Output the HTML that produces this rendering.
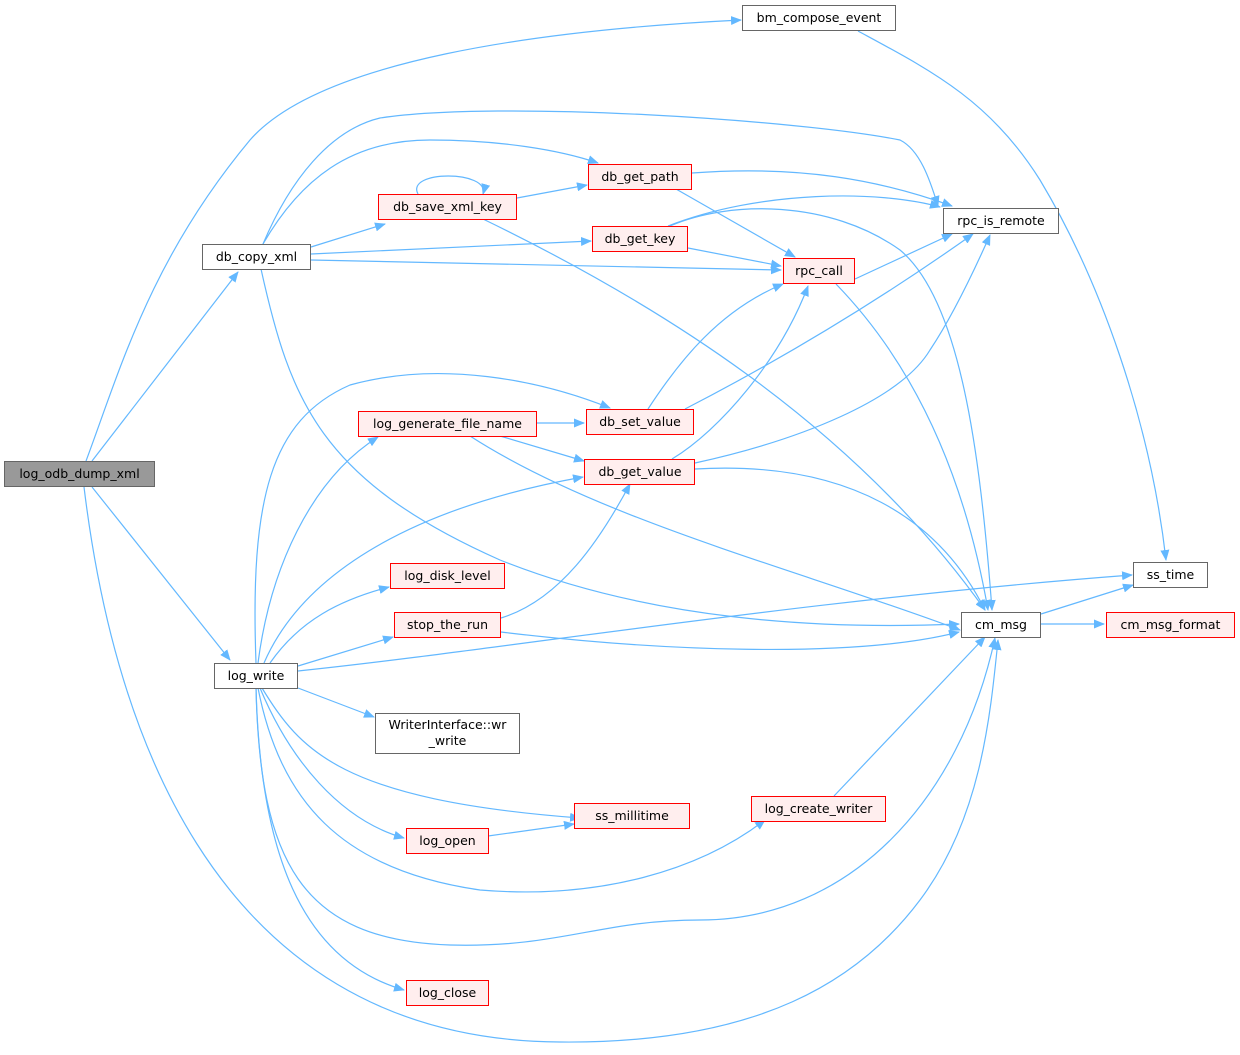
<!DOCTYPE html>
<html><head><meta charset="utf-8"><style>
html,body{margin:0;padding:0;background:#fff;}
svg text{font-family:"DejaVu Sans","Liberation Sans",sans-serif;font-size:12.5px;fill:#000;}
</style></head><body>
<svg width="1240" height="1050" viewBox="0 0 1240 1050" xmlns="http://www.w3.org/2000/svg">
<defs>
<marker id="a" markerWidth="11" markerHeight="9" refX="10" refY="4.5" orient="auto" markerUnits="userSpaceOnUse">
<path d="M0,0 L11,4.5 L0,9 z" fill="#63b8ff"/>
</marker>
</defs>
<g fill="none" stroke="#63b8ff" stroke-width="1.2" marker-end="url(#a)">
<path d="M86,461 C120,370 150,260 250,140 C320,60 540,30 741,20"/>
<path d="M92,461 L238,272"/>
<path d="M92,487 L230,660"/>
<path d="M84,487 C110,700 200,1040 560,1042 C760,1044 860,980 920,900 C980,820 990,720 998,640"/>
<path d="M858,31 C930,70 990,100 1040,180 C1100,280 1150,420 1166,560"/>
<path d="M263,244 C290,180 330,130 380,118 C500,100 800,120 900,140 C920,150 930,180 938,206"/>
<path d="M263,244 C300,180 350,140 430,140 C500,140 560,150 598,163"/>
<path d="M311,247 L385,224"/>
<path d="M311,254 L591,241"/>
<path d="M311,260 L781,270"/>
<path d="M261,269 C290,400 320,480 500,560 C650,620 820,630 959,624"/>
<path d="M418,194 C405,170 490,170 483,194"/>
<path d="M517,198 L587,185"/>
<path d="M483,219 C650,300 850,420 985,610"/>
<path d="M692,173 C800,165 880,180 952,206"/>
<path d="M676,189 L795,257"/>
<path d="M668,226 C760,190 880,190 940,207"/>
<path d="M688,248 L781,266"/>
<path d="M670,226 C730,200 830,200 900,250 C960,300 980,450 992,610"/>
<path d="M855,279 L952,234"/>
<path d="M836,284 C900,350 960,450 988,610"/>
<path d="M648,409 C680,360 720,310 783,284"/>
<path d="M685,409 C780,360 880,300 973,234"/>
<path d="M672,459 C720,430 780,360 808,286"/>
<path d="M695,463 C800,440 900,400 930,350 C950,320 970,280 990,235"/>
<path d="M695,469 C850,460 940,520 985,610"/>
<path d="M537,423 L584,423"/>
<path d="M500,436 L584,461"/>
<path d="M470,436 C600,520 800,570 960,630"/>
<path d="M256,663 C250,500 270,420 350,385 C440,360 540,380 610,408"/>
<path d="M258,663 C270,570 310,480 378,437"/>
<path d="M264,663 C300,580 400,510 583,477"/>
<path d="M270,663 C300,620 340,600 389,587"/>
<path d="M298,666 L393,637"/>
<path d="M298,671 C500,650 800,600 1132,575"/>
<path d="M298,688 L374,717"/>
<path d="M262,688 C300,750 340,800 580,818"/>
<path d="M260,688 C290,760 340,820 404,838"/>
<path d="M258,688 C280,800 340,870 480,890 C600,900 700,870 765,820"/>
<path d="M256,688 C260,860 300,940 450,945 C560,948 600,920 700,920 C850,920 960,800 995,638"/>
<path d="M256,688 C260,850 300,960 404,990"/>
<path d="M501,618 C560,600 600,540 630,484"/>
<path d="M501,632 C650,650 850,660 959,632"/>
<path d="M488,836 L574,824"/>
<path d="M834,796 L985,637"/>
<path d="M1041,624 L1104,624"/>
<path d="M1041,614 L1133,585"/>
</g>
<g stroke-width="1">
<rect x="4.5" y="461.5" width="150" height="25" fill="#999" stroke="#666"/>
<text x="79.5" y="478" text-anchor="middle">log_odb_dump_xml</text>
<rect x="742.5" y="5.5" width="153" height="25" fill="#fff" stroke="#666"/>
<text x="819" y="22" text-anchor="middle">bm_compose_event</text>
<rect x="202.5" y="244.5" width="108" height="25" fill="#fff" stroke="#666"/>
<text x="256.5" y="261" text-anchor="middle">db_copy_xml</text>
<rect x="378.5" y="194.5" width="138" height="25" fill="#fee" stroke="#f00"/>
<text x="447.5" y="211" text-anchor="middle">db_save_xml_key</text>
<rect x="588.5" y="164.5" width="103" height="25" fill="#fee" stroke="#f00"/>
<text x="640" y="181" text-anchor="middle">db_get_path</text>
<rect x="592.5" y="226.5" width="95" height="25" fill="#fee" stroke="#f00"/>
<text x="640" y="243" text-anchor="middle">db_get_key</text>
<rect x="943.5" y="208.5" width="115" height="25" fill="#fff" stroke="#666"/>
<text x="1001" y="225" text-anchor="middle">rpc_is_remote</text>
<rect x="783.5" y="258.5" width="71" height="25" fill="#fee" stroke="#f00"/>
<text x="819" y="275" text-anchor="middle">rpc_call</text>
<rect x="358.5" y="411.5" width="178" height="25" fill="#fee" stroke="#f00"/>
<text x="447.5" y="428" text-anchor="middle">log_generate_file_name</text>
<rect x="586.5" y="409.5" width="107" height="25" fill="#fee" stroke="#f00"/>
<text x="640" y="426" text-anchor="middle">db_set_value</text>
<rect x="584.5" y="459.5" width="110" height="25" fill="#fee" stroke="#f00"/>
<text x="640" y="476" text-anchor="middle">db_get_value</text>
<rect x="390.5" y="563.5" width="114" height="25" fill="#fee" stroke="#f00"/>
<text x="447.5" y="580" text-anchor="middle">log_disk_level</text>
<rect x="394.5" y="612.5" width="106" height="25" fill="#fee" stroke="#f00"/>
<text x="447.5" y="629" text-anchor="middle">stop_the_run</text>
<rect x="214.5" y="663.5" width="83" height="25" fill="#fff" stroke="#666"/>
<text x="256" y="680" text-anchor="middle">log_write</text>
<rect x="375.5" y="713.5" width="144" height="40" fill="#fff" stroke="#666"/>
<text x="447.5" y="729" text-anchor="middle">WriterInterface::wr</text>
<text x="447.5" y="745" text-anchor="middle">_write</text>
<rect x="574.5" y="803.5" width="115" height="25" fill="#fee" stroke="#f00"/>
<text x="632" y="820" text-anchor="middle">ss_millitime</text>
<rect x="406.5" y="828.5" width="82" height="25" fill="#fee" stroke="#f00"/>
<text x="447.5" y="845" text-anchor="middle">log_open</text>
<rect x="406.5" y="980.5" width="82" height="25" fill="#fee" stroke="#f00"/>
<text x="447.5" y="997" text-anchor="middle">log_close</text>
<rect x="751.5" y="796.5" width="134" height="25" fill="#fee" stroke="#f00"/>
<text x="818.5" y="813" text-anchor="middle">log_create_writer</text>
<rect x="961.5" y="612.5" width="79" height="25" fill="#fff" stroke="#666"/>
<text x="1001" y="629" text-anchor="middle">cm_msg</text>
<rect x="1106.5" y="612.5" width="128" height="25" fill="#fee" stroke="#f00"/>
<text x="1170.5" y="629" text-anchor="middle">cm_msg_format</text>
<rect x="1133.5" y="562.5" width="74" height="25" fill="#fff" stroke="#666"/>
<text x="1170.5" y="579" text-anchor="middle">ss_time</text>
</g>
</svg>
</body></html>
